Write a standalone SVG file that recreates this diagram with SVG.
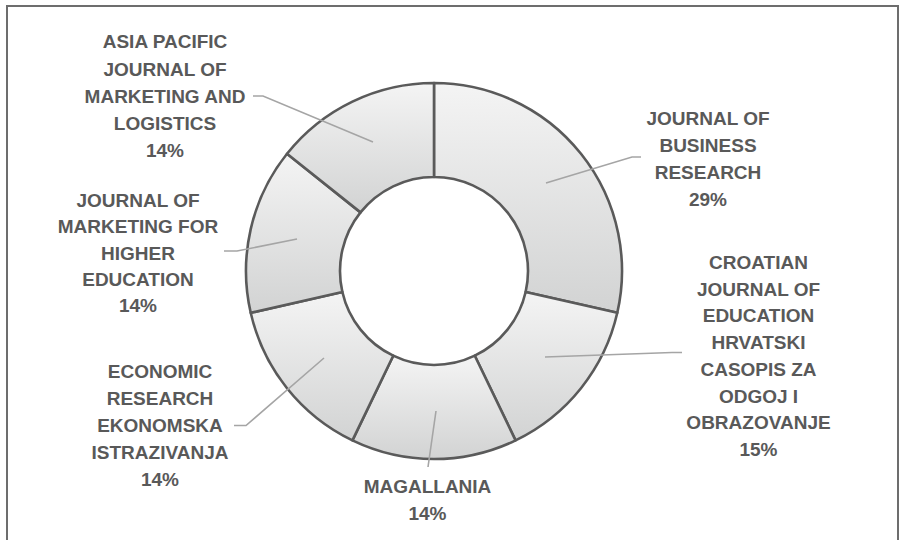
<svg xmlns="http://www.w3.org/2000/svg" width="900" height="540" viewBox="0 0 900 540">
<defs>
<linearGradient id="seg" x1="0" y1="0" x2="0" y2="1">
<stop offset="0" stop-color="#f4f4f4"/>
<stop offset="1" stop-color="#d2d3d3"/>
</linearGradient>
<style>
.seg{fill:url(#seg);stroke:#5a5a5a;stroke-width:2.6;stroke-linejoin:round}
.lead{fill:none;stroke:#a5a5a5;stroke-width:1.6}
.lbl{font-family:"Liberation Sans",Arial,sans-serif;font-weight:bold;font-size:19px;fill:#595959;text-anchor:middle}
</style>
</defs>
<rect width="900" height="540" fill="#ffffff"/>
<path d="M7,540 V6 H898 V540" fill="none" stroke="#6d6d6d" stroke-width="2"/>
<g id="chart">
<g id="seg-jbr"><path class="seg" d="M434,83 A188,188 0 0 1 617.29,312.83 L525.64,291.92 A94,94 0 0 0 434,177 Z"/></g>
<g id="seg-croatian"><path class="seg" d="M617.29,312.83 A188,188 0 0 1 515.57,440.38 L474.78,355.69 A94,94 0 0 0 525.64,291.92 Z"/></g>
<g id="seg-magallania"><path class="seg" d="M515.57,440.38 A188,188 0 0 1 352.43,440.38 L393.22,355.69 A94,94 0 0 0 474.78,355.69 Z"/></g>
<g id="seg-economic"><path class="seg" d="M352.43,440.38 A188,188 0 0 1 250.71,312.83 L342.36,291.92 A94,94 0 0 0 393.22,355.69 Z"/></g>
<g id="seg-jmhe"><path class="seg" d="M250.71,312.83 A188,188 0 0 1 287.02,153.78 L360.51,212.39 A94,94 0 0 0 342.36,291.92 Z"/></g>
<g id="seg-asia"><path class="seg" d="M287.02,153.78 A188,188 0 0 1 434,83 L434,177 A94,94 0 0 0 360.51,212.39 Z"/></g>
</g>
<g id="connectors">
<polyline class="lead" points="253,96 263,96 373,142"/>
<polyline class="lead" points="641,157 632,157 546,183"/>
<polyline class="lead" points="545,357 672,352.5 682,352.5"/>
<polyline class="lead" points="224,251 237,251 297,239"/>
<polyline class="lead" points="234,425.5 246,425.5 324,358"/>
<polyline class="lead" points="436,411 428,467"/>
</g>
<g id="label-asia">
<text class="lbl" x="165" y="48">ASIA PACIFIC</text>
<text class="lbl" x="165" y="75.5">JOURNAL OF</text>
<text class="lbl" x="165" y="103">MARKETING AND</text>
<text class="lbl" x="165" y="130">LOGISTICS</text>
<text class="lbl" x="165" y="156.5">14%</text>
</g>
<g id="label-jbr">
<text class="lbl" x="708" y="125">JOURNAL OF</text>
<text class="lbl" x="708" y="151.5">BUSINESS</text>
<text class="lbl" x="708" y="179">RESEARCH</text>
<text class="lbl" x="708" y="206">29%</text>
</g>
<g id="label-croatian">
<text class="lbl" x="758.5" y="269">CROATIAN</text>
<text class="lbl" x="758.5" y="295.7">JOURNAL OF</text>
<text class="lbl" x="758.5" y="322.4">EDUCATION</text>
<text class="lbl" x="758.5" y="349.1">HRVATSKI</text>
<text class="lbl" x="758.5" y="375.8">CASOPIS ZA</text>
<text class="lbl" x="758.5" y="402.5">ODGOJ I</text>
<text class="lbl" x="758.5" y="429.2">OBRAZOVANJE</text>
<text class="lbl" x="758.5" y="456">15%</text>
</g>
<g id="label-jmhe">
<text class="lbl" x="138" y="206.5">JOURNAL OF</text>
<text class="lbl" x="138" y="233">MARKETING FOR</text>
<text class="lbl" x="138" y="259.5">HIGHER</text>
<text class="lbl" x="138" y="286">EDUCATION</text>
<text class="lbl" x="138" y="311.5">14%</text>
</g>
<g id="label-economic">
<text class="lbl" x="160" y="378">ECONOMIC</text>
<text class="lbl" x="160" y="405">RESEARCH</text>
<text class="lbl" x="160" y="431.5">EKONOMSKA</text>
<text class="lbl" x="160" y="458.5">ISTRAZIVANJA</text>
<text class="lbl" x="160" y="486">14%</text>
</g>
<g id="label-magallania">
<text class="lbl" x="427.5" y="493">MAGALLANIA</text>
<text class="lbl" x="427.5" y="520">14%</text>
</g>
</svg>
